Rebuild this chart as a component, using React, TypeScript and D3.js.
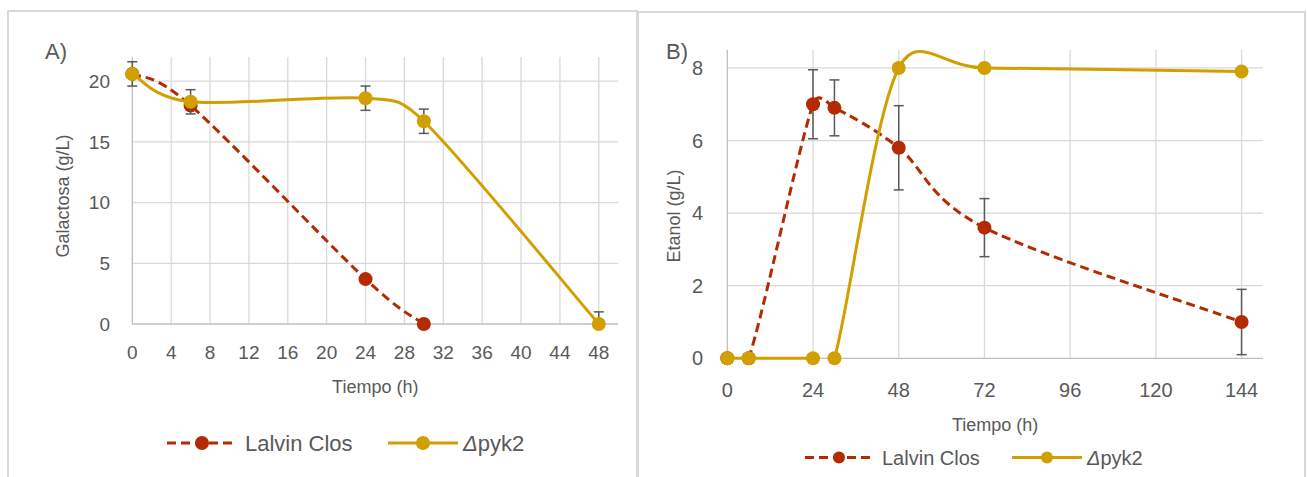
import React from "react";
import * as d3 from "d3";

// ---------- Data ----------
const seriesNames = ["Lalvin Clos", "Δpyk2"];

// Panel A – Galactosa
const timeLalvinA = [0, 6, 24, 30];
const lalvinA = [20.6, 18.0, 3.7, 0];
const timePykA = [0, 6, 24, 30, 48];
const pykA = [20.6, 18.3, 18.6, 16.7, 0];
const pykAErr = [1.0, 1.0, 1.0, 1.0, 1.0];
const xTicksA = [0, 4, 8, 12, 16, 20, 24, 28, 32, 36, 40, 44, 48];
const yTicksA = [0, 5, 10, 15, 20];

// Panel B – Etanol
const timeB = [0, 6, 24, 30, 48, 72, 144];
const lalvinB = [0, 0, 7.0, 6.9, 5.8, 3.6, 1.0];
const lalvinBErr = [0, 0, 0.95, 0.77, 1.16, 0.8, 0.9];
const pykB = [0, 0, 0, 0, 8.0, 8.0, 7.9];
const pykBErr = [0, 0, 0, 0, 0, 0.1, 0];
const xTicksB = [0, 24, 48, 72, 96, 120, 144];
const yTicksB = [0, 2, 4, 6, 8];

// ---------- Style ----------
const RED = "#B42A02";
const GOLD = "#D29F00";
const TXT = "#595959";
const GRID = "#d9d9d9";
const AXIS = "#bfbfbf";
const FONT = "'Liberation Sans', Arial, sans-serif";

type Pt = [number, number];

function excelSmooth(pts: Pt[]): string {
  if (pts.length < 2) return "";
  let d = `M${pts[0][0]},${pts[0][1]}`;
  for (let i = 0; i < pts.length - 1; i++) {
    const p0 = pts[Math.max(i - 1, 0)];
    const p1 = pts[i];
    const p2 = pts[i + 1];
    const p3 = pts[Math.min(i + 2, pts.length - 1)];
    let ax = (p2[0] - p0[0]) / 6, ay = (p2[1] - p0[1]) / 6;
    let bx = (p3[0] - p1[0]) / 6, by = (p3[1] - p1[1]) / 6;
    const chord = Math.hypot(p2[0] - p1[0], p2[1] - p1[1]);
    const la = Math.hypot(ax, ay), lb = Math.hypot(bx, by);
    if (la + lb > chord && la + lb > 0) {
      const s = chord / (la + lb);
      ax *= s; ay *= s; bx *= s; by *= s;
    }
    d += `C${p1[0] + ax},${p1[1] + ay},${p2[0] - bx},${p2[1] - by},${p2[0]},${p2[1]}`;
  }
  return d;
}

interface Series {
  xs: number[];
  ys: number[];
  err?: number[];
  color: string;
  dashed: boolean;
}

interface PanelProps {
  id: string;
  x0: number; x1: number; y0: number; y1: number;
  xMax: number; yMax: number;
  xTicks: number[]; yTicks: number[];
  series: Series[];
  tickFont: number;
  yLabelRight: number;
  xLabelBase: number;
  label: string; labelX: number; labelY: number;
  yTitle: string; yTitleX: number; yTitleY: number;
  xTitleY: number;
  titleFont: number;
  legendY: number; legendFont: number; legendR: number;
  legend: { lx0: number; lx1: number; tx: number }[];
}

function Panel(p: PanelProps) {
  const x = d3.scaleLinear().domain([0, p.xMax]).range([p.x0, p.x1]);
  const y = d3.scaleLinear().domain([0, p.yMax]).range([p.y0, p.y1]);
  const clipId = `clip-${p.id}`;
  return (
    <g>
      <defs>
        <clipPath id={clipId}>
          <rect x={p.x0 - 2} y={p.y1} width={p.x1 - p.x0 + 4} height={p.y0 - p.y1 + 2} />
        </clipPath>
      </defs>
      {/* grid */}
      {p.xTicks.filter((t) => t !== 0).map((t) => (
        <line key={"gx" + t} x1={x(t)} x2={x(t)} y1={p.y1} y2={p.y0} stroke={GRID} strokeWidth={1.3} />
      ))}
      {p.yTicks.filter((t) => t !== 0).map((t) => (
        <line key={"gy" + t} x1={p.x0} x2={p.x1} y1={y(t)} y2={y(t)} stroke={GRID} strokeWidth={1.3} />
      ))}
      {/* axes */}
      <line x1={p.x0} x2={p.x0} y1={p.y1} y2={p.y0} stroke={AXIS} strokeWidth={1.3} />
      <line x1={p.x0} x2={p.x1} y1={p.y0} y2={p.y0} stroke={AXIS} strokeWidth={1.3} />
      {/* tick labels */}
      {p.yTicks.map((t) => (
        <text key={"ty" + t} x={p.yLabelRight} y={y(t)} dy="0.35em" textAnchor="end" fontSize={p.tickFont} fill={TXT} fontFamily={FONT}>
          {t}
        </text>
      ))}
      {p.xTicks.map((t) => (
        <text key={"tx" + t} x={x(t)} y={p.xLabelBase} textAnchor="middle" fontSize={p.tickFont} fill={TXT} fontFamily={FONT}>
          {t}
        </text>
      ))}
      {/* titles */}
      <text x={p.labelX} y={p.labelY} fontSize={22} fill={TXT} fontFamily={FONT}>{p.label}</text>
      <text transform={`translate(${p.yTitleX},${p.yTitleY}) rotate(-90)`} textAnchor="middle" fontSize={p.titleFont} fill={TXT} fontFamily={FONT}>
        {p.yTitle}
      </text>
      <text x={(p.x0 + p.x1) / 2} y={p.xTitleY} textAnchor="middle" fontSize={p.titleFont} fill={TXT} fontFamily={FONT}>
        Tiempo (h)
      </text>
      {/* series */}
      {p.series.map((s, si) => {
        const pts: Pt[] = s.xs.map((t, i) => [x(t), y(s.ys[i])]);
        return (
          <g key={"s" + si}>
            <path d={excelSmooth(pts)} fill="none" stroke={s.color} strokeWidth={3}
              strokeDasharray={s.dashed ? "9 5" : undefined} clipPath={`url(#${clipId})`} />
            {s.err && s.xs.map((t, i) => {
              const e = s.err![i];
              if (!e) return null;
              const top = y(Math.min(p.yMax, s.ys[i] + e));
              const bot = y(Math.max(0, s.ys[i] - e));
              const cx = x(t);
              return (
                <g key={"e" + i} stroke="#595959" strokeWidth={1.5}>
                  <line x1={cx} x2={cx} y1={top} y2={bot} />
                  <line x1={cx - 5} x2={cx + 5} y1={top} y2={top} />
                  {s.ys[i] - e >= 0 && <line x1={cx - 5} x2={cx + 5} y1={bot} y2={bot} />}
                </g>
              );
            })}
            {pts.map((pt, i) => (
              <circle key={"m" + i} cx={pt[0]} cy={pt[1]} r={7} fill={s.color} />
            ))}
          </g>
        );
      })}
      {/* legend */}
      {p.series.map((s, si) => {
        const L = p.legend[si];
        return (
          <g key={"l" + si}>
            <line x1={L.lx0} x2={L.lx1} y1={p.legendY} y2={p.legendY} stroke={s.color} strokeWidth={3}
              strokeDasharray={s.dashed ? "9 5" : undefined} />
            <circle cx={(L.lx0 + L.lx1) / 2} cy={p.legendY} r={p.legendR} fill={s.color} />
            <text x={L.tx} y={p.legendY} dy="0.36em" fontSize={p.legendFont} fill={TXT} fontFamily={FONT}>
              {si === 1 ? (<><tspan fontStyle="italic">Δ</tspan>pyk2</>) : seriesNames[si]}
            </text>
          </g>
        );
      })}
    </g>
  );
}

export default function App() {
  return (
    <svg width={1307} height={477} style={{ position: "absolute", left: 0, top: 0, background: "#fff" }}>
      <rect x={0} y={0} width={1307} height={477} fill="#fff" />
      <rect x={8} y={11} width={629} height={500} fill="none" stroke={GRID} strokeWidth={2} />
      <rect x={638} y={12} width={667} height={500} fill="none" stroke={GRID} strokeWidth={2} />
      <Panel
        id="a" x0={132.3} x1={618.2} y0={324} y1={56.9} xMax={50} yMax={22}
        xTicks={xTicksA} yTicks={yTicksA}
        series={[
          { xs: timeLalvinA, ys: lalvinA, color: RED, dashed: true },
          { xs: timePykA, ys: pykA, err: pykAErr, color: GOLD, dashed: false },
        ]}
        tickFont={19} yLabelRight={110} xLabelBase={359}
        label="A)" labelX={45} labelY={59}
        yTitle="Galactosa (g/L)" yTitleX={69} yTitleY={196}
        xTitleY={393} titleFont={18}
        legendY={443} legendFont={22} legendR={7}
        legend={[{ lx0: 167, lx1: 237, tx: 245 }, { lx0: 388, lx1: 458, tx: 463 }]}
      />
      <Panel
        id="b" x0={727.3} x1={1263} y0={358.3} y1={49.8} xMax={150} yMax={8.5}
        xTicks={xTicksB} yTicks={yTicksB}
        series={[
          { xs: timeB, ys: lalvinB, err: lalvinBErr, color: RED, dashed: true },
          { xs: timeB, ys: pykB, err: pykBErr, color: GOLD, dashed: false },
        ]}
        tickFont={20} yLabelRight={703} xLabelBase={397}
        label="B)" labelX={666} labelY={59}
        yTitle="Etanol (g/L)" yTitleX={680} yTitleY={216}
        xTitleY={431} titleFont={18}
        legendY={457.5} legendFont={20} legendR={6}
        legend={[{ lx0: 805, lx1: 873, tx: 882 }, { lx0: 1012, lx1: 1082, tx: 1087 }]}
      />
    </svg>
  );
}
